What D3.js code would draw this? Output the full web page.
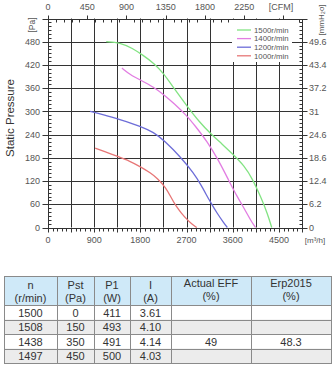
<!DOCTYPE html>
<html><head><meta charset="utf-8">
<script src="https://cdn.jsdelivr.net/npm/d3@7"></script>
<style>
html,body{margin:0;padding:0;background:#fff;}
svg{display:block;font-family:"Liberation Sans",Arial,Helvetica,sans-serif;}
</style></head>
<body><svg id="c" width="332" height="365"></svg>
<script>
// ---- data ----
const seriesNames = ["1500r/min","1400r/min","1200r/min","1000r/min"];
const seriesColors = ["#82e382","#e27de2","#6d6dd8","#e77676"];
const curve1500 = [[1135,480],[1400,478],[1650,463],[1850,445],[2060,425],[2255,398],[2451,360],[2713,313],[2941,274],[3170,242],[3400,215],[3595,190],[3824,160],[3987,125],[4150,78],[4280,35],[4360,0]];
const curve1400 = [[1441,412],[1600,395],[1800,381],[2060,363],[2270,342],[2451,321],[2713,288],[2870,262],[3104,222],[3326,173],[3521,122],[3684,80],[3847,44],[3960,16],[4044,0]];
const curve1200 = [[820,300],[1100,291],[1400,279],[1800,262],[2060,246],[2270,224],[2583,182],[2843,140],[2974,112],[3170,64],[3300,36],[3420,13],[3495,0]];
const curve1000 = [[920,205],[1150,194],[1350,184],[1600,171],[1800,157],[2000,141],[2130,127],[2300,103],[2400,77],[2500,54],[2600,37],[2700,22],[2800,9],[2900,0]];
const bottomTicks = [0,900,1800,2700,3600,4500];
const topTicks = [0,450,900,1350,1800,2250];
const leftTicks = [0,60,120,180,240,300,360,420,480];
const rightLabels = ["0","6.2","12.4","18.6","24.6","31","37.2","43.4","49.6"];
const tableHeader = [["n","(r/min)"],["Pst","(Pa)"],["P1","(W)"],["I","(A)"],["Actual EFF","(%)"],["Erp2015","(%)"]];
const tableRows = [
  ["1500","0","411","3.61","",""],
  ["1508","150","493","4.10","",""],
  ["1438","350","491","4.14","49","48.3"],
  ["1497","450","500","4.03","",""]
];

const svg = d3.select("#c");
const x = d3.scaleLinear().domain([0,4950]).range([48,302]);
const y = d3.scaleLinear().domain([0,540]).range([227.5,18.5]);
const CFM = 1.699;
const xc = d3.scaleLinear().domain([0,4950/CFM]).range([48,302]);
const gridCol = "#333", txtCol = "#555";

// grid
const g = svg.append("g");
g.selectAll(".vg").data(d3.range(450,4950,450)).join("line")
  .attr("x1",d=>Math.round(x(d))+0.5).attr("x2",d=>Math.round(x(d))+0.5)
  .attr("y1",y(540)).attr("y2",y(0)).attr("stroke",gridCol).attr("stroke-width",1);
g.selectAll(".hg").data(d3.range(60,540,60)).join("line")
  .attr("y1",d=>Math.round(y(d))+0.5).attr("y2",d=>Math.round(y(d))+0.5)
  .attr("x1",x(0)).attr("x2",x(4950)).attr("stroke",gridCol).attr("stroke-width",1);
// frame
svg.append("rect").attr("x",Math.round(x(0))+0.5).attr("y",Math.round(y(540))+0.5)
  .attr("width",Math.round(x(4950))-Math.round(x(0))).attr("height",Math.round(y(0))-Math.round(y(540)))
  .attr("fill","none").attr("stroke",gridCol);

// minor ticks
const x0 = Math.round(x(0))+0.5, x1 = Math.round(x(4950))+0.5;
const yb = Math.round(y(0))+0.5, yt = Math.round(y(540))+0.5;
svg.append("g").selectAll("line").data(d3.range(0,4951,90)).join("line")
  .attr("x1",d=>Math.round(x(d))+0.5).attr("x2",d=>Math.round(x(d))+0.5)
  .attr("y1",yb).attr("y2",d=>d%450===0?yb+4:yb+3).attr("stroke",gridCol);
svg.append("g").selectAll("line").data(d3.range(0,4950/CFM,90)).join("line")
  .attr("x1",d=>Math.round(xc(d))+0.5).attr("x2",d=>Math.round(xc(d))+0.5)
  .attr("y1",yt).attr("y2",d=>d%450===0?yt-4:yt+3).attr("stroke",gridCol);
svg.append("g").selectAll("line").data(d3.range(0,541,10)).join("line")
  .attr("y1",d=>Math.round(y(d))+0.5).attr("y2",d=>Math.round(y(d))+0.5)
  .attr("x1",d=>d%60===0?x0-6:x0).attr("x2",d=>d%60===0?x0:x0+3).attr("stroke",gridCol);
svg.append("g").selectAll("line").data(d3.range(0,541,10)).join("line")
  .attr("y1",d=>Math.round(y(d))+0.5).attr("y2",d=>Math.round(y(d))+0.5)
  .attr("x1",d=>d%60===0?x1:x1-3).attr("x2",d=>d%60===0?x1+5:x1).attr("stroke",gridCol);

// tick labels
const fs = 9;
svg.append("g").selectAll("text").data(bottomTicks).join("text")
  .attr("x",d=>x(d)).attr("y",243).attr("text-anchor","middle")
  .attr("font-size",fs).attr("fill",txtCol).text(d=>d);
svg.append("g").selectAll("text").data(topTicks).join("text")
  .attr("x",d=>xc(d)).attr("y",10).attr("text-anchor","middle")
  .attr("font-size",fs).attr("fill",txtCol).text(d=>d);
svg.append("g").selectAll("text").data(leftTicks).join("text")
  .attr("x",40).attr("y",d=>y(d)+3.2).attr("text-anchor","end")
  .attr("font-size",fs).attr("fill",txtCol).text(d=>d);
svg.append("g").selectAll("text").data(rightLabels).join("text")
  .attr("x",309).attr("y",(d,i)=>y(leftTicks[i])+3.2).attr("text-anchor","start")
  .attr("font-size",fs).attr("fill",txtCol).text(d=>d);

svg.append("text").attr("x",281).attr("y",10).attr("text-anchor","middle")
  .attr("font-size",fs).attr("fill",txtCol).text("[CFM]");
svg.append("text").attr("x",315).attr("y",243).attr("text-anchor","middle")
  .attr("font-size",8).attr("fill",txtCol).text("[m³/h]");
svg.append("text").attr("transform","translate(35,25) rotate(-90)").attr("text-anchor","middle")
  .attr("font-size",8.5).attr("fill",txtCol).text("[Pa]");
svg.append("text").attr("transform","translate(324,20) rotate(-90)").attr("text-anchor","middle")
  .attr("font-size",8).attr("fill",txtCol).text("[mmH₂o]");
svg.append("text").attr("transform","translate(14,118) rotate(-90)").attr("text-anchor","middle")
  .attr("font-size",11.5).attr("fill","#333").text("Static Pressure");

// curves
const line = d3.line().x(d=>x(d[0])).y(d=>y(d[1])).curve(d3.curveBasis);
const curves = [curve1500,curve1400,curve1200,curve1000];
svg.append("g").selectAll("path").data(curves).join("path")
  .attr("d",line).attr("fill","none").attr("stroke",(d,i)=>seriesColors[i]).attr("stroke-width",1.3);

// legend
svg.append("rect").attr("x",232).attr("y",20).attr("width",60).attr("height",42).attr("fill","#fff");
const lg = svg.append("g").selectAll("g").data(seriesNames).join("g")
  .attr("transform",(d,i)=>`translate(237,${30+i*8.6})`);
lg.append("line").attr("x1",0).attr("x2",14).attr("stroke",(d,i)=>seriesColors[i]).attr("stroke-width",1.3);
lg.append("text").attr("x",17).attr("y",2.8).attr("font-size",7.8).attr("fill",txtCol).text(d=>d);

// table
const colX = [4,57,94,130,171,251,331];
const hTop = 276, hBot = 305, rowH = 14.5;
const tg = svg.append("g");
tg.append("rect").attr("x",colX[0]).attr("y",hTop).attr("width",colX[6]-colX[0]).attr("height",hBot-hTop).attr("fill","#cfe9f8");
tg.selectAll(".rb").data(tableRows).join("rect")
  .attr("x",colX[0]).attr("y",(d,i)=>hBot+i*rowH).attr("width",colX[6]-colX[0]).attr("height",rowH)
  .attr("fill",(d,i)=>i%2===1?"#ececec":"#fff");
// borders
const lineCol = "#8a8a8a";
tg.selectAll(".vl").data(colX).join("line")
  .attr("x1",d=>d+0.5).attr("x2",d=>d+0.5).attr("y1",hTop).attr("y2",hBot+4*rowH).attr("stroke",lineCol);
tg.selectAll(".hl").data([hTop,hBot,...tableRows.map((r,i)=>hBot+(i+1)*rowH)]).join("line")
  .attr("x1",colX[0]).attr("x2",colX[6]+1).attr("y1",d=>Math.round(d)+0.5).attr("y2",d=>Math.round(d)+0.5).attr("stroke",lineCol);
// header text
tableHeader.forEach((h,ci)=>{
  const cx = (colX[ci]+colX[ci+1])/2;
  const top = ci>=4 ? 0 : 2;
  tg.append("text").attr("x",cx).attr("y",hTop+11+top).attr("text-anchor","middle")
    .attr("font-size",11).attr("fill","#333").text(h[0]);
  tg.append("text").attr("x",cx).attr("y",hTop+24+top).attr("text-anchor","middle")
    .attr("font-size",11).attr("fill","#333").text(h[1]);
});
tableRows.forEach((r,ri)=>{
  r.forEach((v,ci)=>{
    tg.append("text").attr("x",(colX[ci]+colX[ci+1])/2).attr("y",hBot+ri*rowH+11.5)
      .attr("text-anchor","middle").attr("font-size",11).attr("fill","#333").text(v);
  });
});
</script></body></html>
